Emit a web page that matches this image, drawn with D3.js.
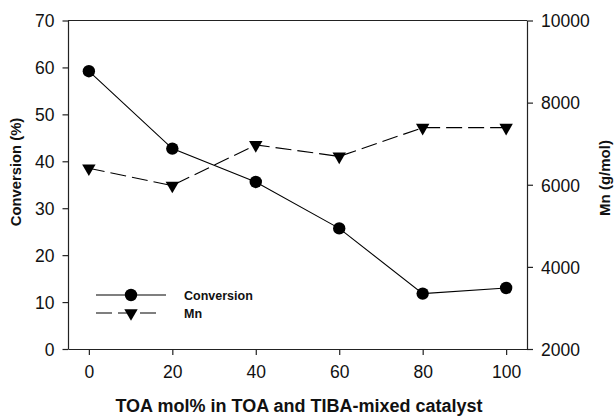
<!DOCTYPE html>
<html>
<head>
<meta charset="utf-8">
<script src="https://cdn.jsdelivr.net/npm/d3@7"></script>
<style>
  html, body { margin: 0; padding: 0; background: #fff; }
  svg { display: block; font-family: "Liberation Sans", Arial, sans-serif; }
</style>
</head>
<body>
<svg id="chart" width="615" height="416"></svg>
<script>
// ---- data ----
const toaMol = [0, 20, 40, 60, 80, 100];
const conversion = [59.2, 42.7, 35.6, 25.7, 11.8, 13.0];
const mn = [6400, 5980, 6970, 6690, 7390, 7390];
const xTicks = [0, 20, 40, 60, 80, 100];
const leftTicks = [0, 10, 20, 30, 40, 50, 60, 70];
const rightTicks = [2000, 4000, 6000, 8000, 10000];
const seriesNames = ["Conversion", "Mn"];

// ---- layout ----
const svg = d3.select("#chart");
const L = 68, R = 527, T = 20.5, B = 349;
const axisColor = "#222";

const x = d3.scaleLinear().domain([-5, 105]).range([L, R]);
const yL = d3.scaleLinear().domain([0, 70]).range([B, T]);
const yR = d3.scaleLinear().domain([2000, 10000]).range([B, T]);

// frame
svg.append("line").attr("x1", L).attr("x2", R).attr("y1", T).attr("y2", T)
  .attr("stroke", axisColor).attr("stroke-width", 1.2);

function styleAxis(g) {
  g.selectAll("path").attr("stroke", axisColor).attr("stroke-width", 1.2);
  g.selectAll("line").attr("stroke", axisColor).attr("stroke-width", 1.2);
  g.selectAll("text").attr("fill", "#111").style("font-size", "17.5px")
    .style("font-family", "'Liberation Sans', Arial, sans-serif");
}

const gx = svg.append("g").attr("transform", `translate(0,${B})`)
  .call(d3.axisBottom(x).tickValues(xTicks).tickSize(6).tickPadding(11).tickSizeOuter(0));
styleAxis(gx);

const gl = svg.append("g").attr("transform", `translate(${L},0)`)
  .call(d3.axisLeft(yL).tickValues(leftTicks).tickSize(5.5).tickPadding(8).tickSizeOuter(0));
styleAxis(gl);
gl.selectAll("text").attr("dy", "0.36em");

const gr = svg.append("g").attr("transform", `translate(${R},0)`)
  .call(d3.axisRight(yR).tickValues(rightTicks).tickFormat(d3.format("d"))
    .tickSize(6).tickPadding(8).tickSizeOuter(0));
styleAxis(gr);
gr.selectAll("text").attr("dy", "0.36em");

// ---- series ----
const convData = toaMol.map((t, i) => ({ x: t, y: conversion[i] }));
const mnData = toaMol.map((t, i) => ({ x: t, y: mn[i] }));

svg.append("path").datum(convData)
  .attr("fill", "none").attr("stroke", "#000").attr("stroke-width", 1.1)
  .attr("d", d3.line().x(d => x(d.x)).y(d => yL(d.y)));

svg.append("path").datum(mnData)
  .attr("fill", "none").attr("stroke", "#000").attr("stroke-width", 1.1)
  .attr("stroke-dasharray", "16,6")
  .attr("d", d3.line().x(d => x(d.x)).y(d => yR(d.y)));

svg.selectAll("circle.conv").data(convData).enter().append("circle")
  .attr("class", "conv").attr("cx", d => x(d.x)).attr("cy", d => yL(d.y))
  .attr("r", 6.2).attr("fill", "#000");

const tri = d3.symbol().type(d3.symbolTriangle).size(78);
svg.selectAll("path.mn").data(mnData).enter().append("path")
  .attr("class", "mn").attr("d", tri)
  .attr("transform", d => `translate(${x(d.x)},${yR(d.y)}) rotate(180)`)
  .attr("fill", "#000");

// ---- legend ----
const lg = svg.append("g");
const legY = [295, 313];
lg.append("line").attr("x1", 96).attr("x2", 166).attr("y1", legY[0]).attr("y2", legY[0])
  .attr("stroke", "#000").attr("stroke-width", 1.1);
lg.append("circle").attr("cx", 131).attr("cy", legY[0]).attr("r", 6.2).attr("fill", "#000");
lg.append("line").attr("x1", 96).attr("x2", 162).attr("y1", legY[1]).attr("y2", legY[1])
  .attr("stroke", "#000").attr("stroke-width", 1.1).attr("stroke-dasharray", "16,6");
lg.append("path").attr("d", tri).attr("transform", `translate(131,${legY[1]}) rotate(180)`)
  .attr("fill", "#000");
lg.selectAll("text").data(seriesNames).enter().append("text")
  .attr("x", 184).attr("y", (d, i) => legY[i] + 4.5)
  .style("font-size", "12.5px").style("font-weight", "bold").attr("fill", "#111")
  .text(d => d);

// ---- titles ----
svg.append("text").attr("x", 299).attr("y", 412).attr("text-anchor", "middle")
  .style("font-size", "18px").style("font-weight", "bold").attr("fill", "#111")
  .text("TOA mol% in TOA and TIBA-mixed catalyst");

svg.append("text").attr("transform", "translate(21,172) rotate(-90)")
  .attr("text-anchor", "middle")
  .style("font-size", "14.8px").style("font-weight", "bold").attr("fill", "#111")
  .text("Conversion (%)");

svg.append("text").attr("transform", "translate(610,178) rotate(-90)")
  .attr("text-anchor", "middle")
  .style("font-size", "15px").style("font-weight", "bold").attr("fill", "#111")
  .text("Mn (g/mol)");
</script>
</body>
</html>
